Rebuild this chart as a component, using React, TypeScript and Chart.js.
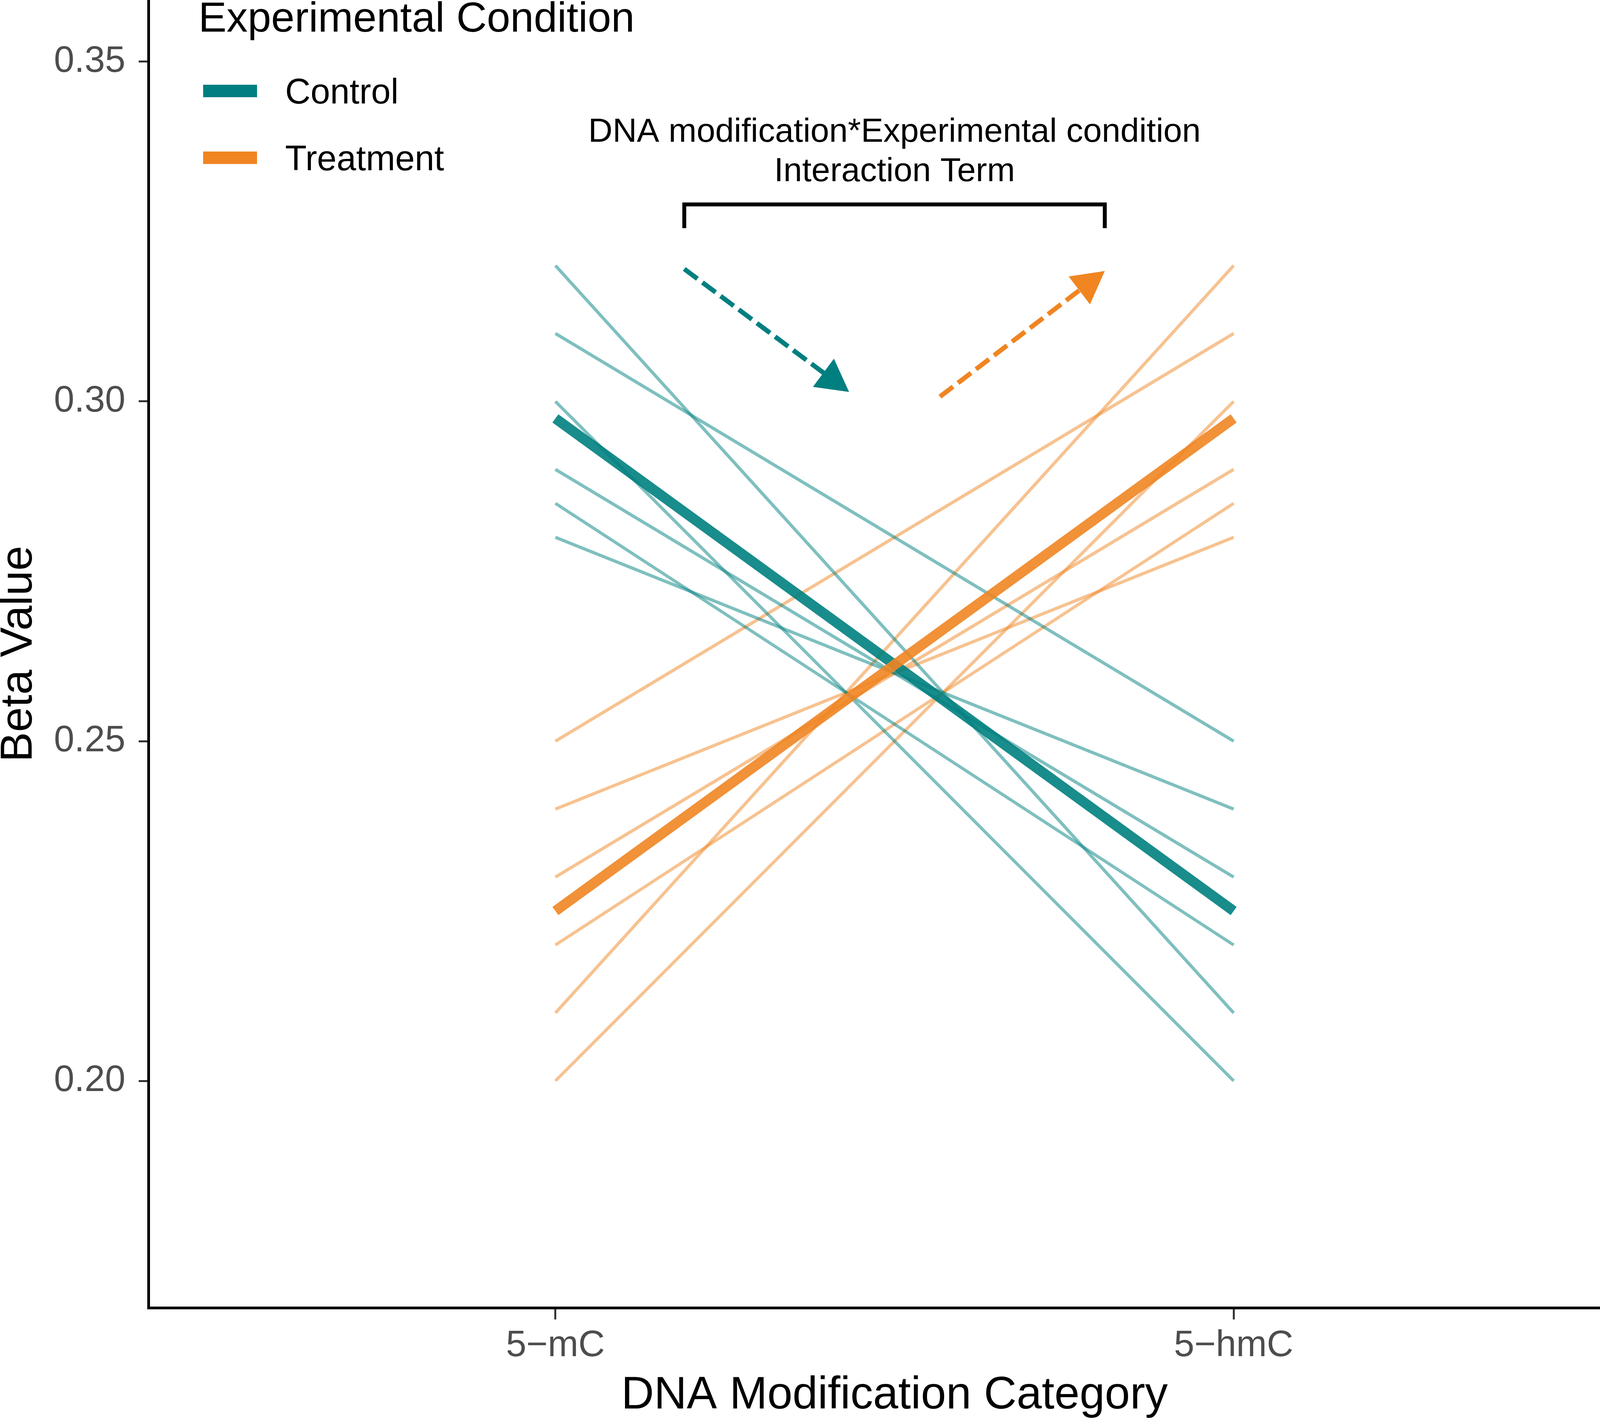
import { useEffect, useRef } from "react";
import { Chart, registerables } from "chart.js";

Chart.register(...registerables);

const FONT = "'Liberation Sans', Arial, Helvetica, sans-serif";
const TEAL = "#007F80";
const ORANGE = "#F08522";

// data
const categories = ["5−mC", "5−hmC"];
const yTicks = [0.2, 0.25, 0.3, 0.35];
const controlStart = [0.32, 0.31, 0.3, 0.29, 0.285, 0.28];
const controlEnd = [0.21, 0.25, 0.2, 0.23, 0.22, 0.24];
const treatmentStart = [0.21, 0.25, 0.2, 0.23, 0.22, 0.24];
const treatmentEnd = [0.32, 0.31, 0.3, 0.29, 0.285, 0.28];
const controlMean = [0.2975, 0.225];
const treatmentMean = [0.225, 0.2975];
const legendTitle = "Experimental Condition";
const legendLabels = ["Control", "Treatment"];
const noteLines = ["DNA modification*Experimental condition", "Interaction Term"];

const alpha = (hex: string, a: number) => {
  const n = parseInt(hex.slice(1), 16);
  return `rgba(${(n >> 16) & 255},${(n >> 8) & 255},${n & 255},${a})`;
};

const pair = (a: number, b: number) => [
  { x: 1, y: a },
  { x: 2, y: b },
];

const drawArrow = (ctx: CanvasRenderingContext2D, x0: number, y0: number, x1: number, y1: number, color: string) => {
  const ang = Math.atan2(y1 - y0, x1 - x0);
  const c = Math.cos(ang);
  const s = Math.sin(ang);
  const head = 82;
  const half = 45;
  const bx = x1 - head * c;
  const by = y1 - head * s;
  ctx.strokeStyle = color;
  ctx.lineWidth = 12;
  ctx.lineCap = "butt";
  ctx.setLineDash([42, 16]);
  ctx.beginPath();
  ctx.moveTo(x0, y0);
  ctx.lineTo(bx + 20 * c, by + 20 * s);
  ctx.stroke();
  ctx.setLineDash([]);
  ctx.fillStyle = color;
  ctx.beginPath();
  ctx.moveTo(x1, y1);
  ctx.lineTo(bx + half * s, by - half * c);
  ctx.lineTo(bx - half * s, by + half * c);
  ctx.closePath();
  ctx.fill();
};

const notePlugin = {
  id: "notePlugin",
  afterDraw(chart: any) {
    const { ctx } = chart;
    const xs = chart.scales.x;
    const ys = chart.scales.y;
    ctx.save();

    // interaction note
    ctx.fillStyle = "#000";
    ctx.textAlign = "center";
    ctx.textBaseline = "alphabetic";
    ctx.font = `86px ${FONT}`;
    ctx.fillText(noteLines[0], xs.getPixelForValue(1.5), ys.getPixelForValue(0.3382));
    ctx.fillText(noteLines[1], xs.getPixelForValue(1.5), ys.getPixelForValue(0.3324));

    // bracket
    const bl = xs.getPixelForValue(1.19);
    const br = xs.getPixelForValue(1.81);
    const bt = ys.getPixelForValue(0.329);
    const bb = ys.getPixelForValue(0.3255);
    ctx.strokeStyle = "#000";
    ctx.lineWidth = 10;
    ctx.lineJoin = "miter";
    ctx.beginPath();
    ctx.moveTo(bl, bb);
    ctx.lineTo(bl, bt);
    ctx.lineTo(br, bt);
    ctx.lineTo(br, bb);
    ctx.stroke();

    // arrows
    drawArrow(ctx, xs.getPixelForValue(1.19), ys.getPixelForValue(0.3195), xs.getPixelForValue(1.433), ys.getPixelForValue(0.3014), TEAL);
    drawArrow(ctx, xs.getPixelForValue(1.567), ys.getPixelForValue(0.3007), xs.getPixelForValue(1.81), ys.getPixelForValue(0.3192), ORANGE);

    // legend
    ctx.textAlign = "left";
    ctx.fillStyle = "#000";
    ctx.font = `108px ${FONT}`;
    ctx.fillText(legendTitle, 508, 81);
    const colors = [TEAL, ORANGE];
    const rows = [233, 404];
    ctx.font = `90px ${FONT}`;
    legendLabels.forEach((label, i) => {
      ctx.fillStyle = colors[i];
      ctx.fillRect(520, rows[i] - 16, 138, 32);
      ctx.fillStyle = "#000";
      ctx.fillText(label, 730, rows[i] + 32);
    });
    ctx.restore();
  },
};

const App = () => {
  const canvasRef = useRef<HTMLCanvasElement>(null);

  useEffect(() => {
    document.body.style.margin = "0";
    if (!canvasRef.current) return;
    const ctx = canvasRef.current.getContext("2d");
    if (!ctx) return;

    const thin = (start: number[], end: number[], color: string) =>
      start.map((v, i) => ({
        data: pair(v, end[i]),
        borderColor: alpha(color, 0.5),
        borderWidth: 8,
        showLine: true,
        pointRadius: 0,
        order: 3,
      }));

    const chart = new Chart(ctx, {
      type: "scatter",
      data: {
        datasets: [
          ...thin(controlStart, controlEnd, TEAL),
          ...thin(treatmentStart, treatmentEnd, ORANGE),
          {
            data: pair(controlMean[0], controlMean[1]),
            borderColor: alpha(TEAL, 0.9),
            borderWidth: 26,
            showLine: true,
            pointRadius: 0,
            order: 2,
          },
          {
            data: pair(treatmentMean[0], treatmentMean[1]),
            borderColor: alpha(ORANGE, 0.9),
            borderWidth: 26,
            showLine: true,
            pointRadius: 0,
            order: 1,
          },
        ],
      },
      options: {
        responsive: false,
        animation: false,
        devicePixelRatio: 1,
        layout: { padding: 0 },
        plugins: {
          legend: { display: false },
          tooltip: { enabled: false },
        },
        scales: {
          x: {
            type: "linear",
            min: 0.4,
            max: 2.6,
            afterBuildTicks: (scale: any) => {
              scale.ticks = categories.map((_, i) => ({ value: i + 1 }));
            },
            afterFit: (scale: any) => {
              scale.height = 290;
              scale.paddingLeft = 0;
              scale.paddingRight = 0;
            },
            grid: { drawOnChartArea: false, drawTicks: true, tickLength: 30, tickWidth: 5, tickColor: "#333333" },
            border: { display: true, color: "#000", width: 7 },
            ticks: {
              padding: 12,
              color: "#4D4D4D",
              font: { family: FONT, size: 94 },
              callback: (v: any) => categories[Math.round(Number(v)) - 1] ?? "",
            },
            title: {
              display: true,
              text: "DNA Modification Category",
              color: "#000",
              font: { family: FONT, size: 116, lineHeight: 1 },
              padding: { top: 0, bottom: 6 },
            },
          },
          y: {
            type: "linear",
            min: 0.16661,
            max: 0.35908,
            afterBuildTicks: (scale: any) => {
              scale.ticks = yTicks.map((v) => ({ value: v }));
            },
            afterFit: (scale: any) => {
              scale.width = 380;
              scale.paddingTop = 0;
              scale.paddingBottom = 0;
            },
            grid: { drawOnChartArea: false, drawTicks: true, tickLength: 25, tickWidth: 5, tickColor: "#333333" },
            border: { display: true, color: "#000", width: 7 },
            ticks: {
              padding: 34,
              color: "#4D4D4D",
              font: { family: FONT, size: 94 },
              callback: (v: any) => Number(v).toFixed(2),
            },
            title: {
              display: true,
              text: "Beta Value",
              color: "#000",
              font: { family: FONT, size: 115, lineHeight: 0.85 },
              padding: 0,
            },
          },
        },
      },
      plugins: [notePlugin],
    });

    return () => {
      chart.destroy();
    };
  }, []);

  return (
    <div style={{ width: 4200, height: 3639, background: "#fff" }}>
      <canvas ref={canvasRef} width={4200} height={3639} style={{ display: "block" }} />
    </div>
  );
};

export default App;
